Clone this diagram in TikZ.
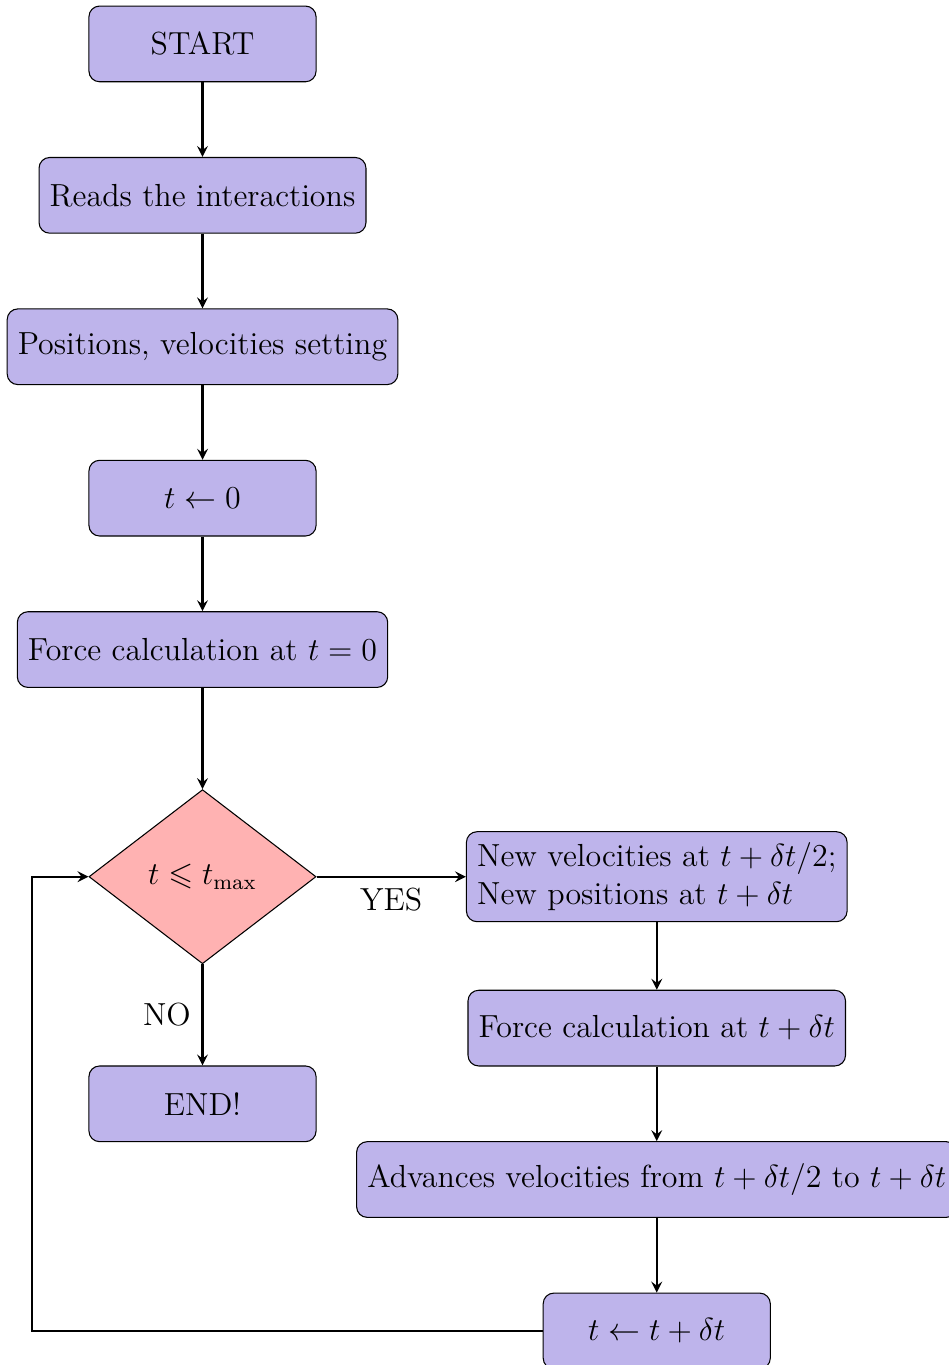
\documentclass[tikz,border=0pt,12pt]{standalone}
\usepackage{amssymb}
\usepackage{tikz}
\tikzset{>=stealth}
\usetikzlibrary{shapes.geometric}
\definecolor{boxfill}{RGB}{190,180,235}

\begin{document}
\begin{tikzpicture}
      \tikzstyle{process}=[rectangle,rounded corners,draw=black,fill=boxfill,minimum width=3cm,minimum height=1cm,text centered];
      \tikzstyle{decision}=[diamond,draw=black,fill=red!30,minimum width=3cm,minimum height=2.3cm,inner sep=0pt];
      \tikzstyle{arrow}=[thick,->];
      \useasboundingbox (-2.675,0.58) rectangle (9.86,-17.45);
      \node[process] (start) at (0,0) {START};
      \node[process] (reads) at (0,-2) {Reads the interactions};
      \node[process] (init) at (0,-4) {Positions, velocities setting};
      \node[process] (tzero) at (0,-6) {$t \leftarrow 0$};
      \node[process] (forcezero) at (0,-8) {Force calculation at $t=0$};
      \node[decision] (test) at (0,-11) {$t \leqslant t_{\max}$};
      \node[process] (stop) at (0,-14) {END!};
      \node[process,align=left] (newpos) at (6,-11) {New velocities at $t+\delta t/2$;\\New positions at $t+\delta t$};
      \node[process] (forcedt) at (6,-13) {Force calculation at $t+\delta t$};
      \node[process] (advance) at (6,-15) {Advances velocities from $t+\delta t/2$ to $t+\delta t$};
      \node[process] (tstep) at (6,-17) {$t \leftarrow t+\delta t$};
      \coordinate (loop) at (-2.25,-11);

      \draw[arrow](start)--(reads);
      \draw[arrow](reads)--(init);
      \draw[arrow](init)--(tzero);
      \draw[arrow](tzero)--(forcezero);
      \draw[arrow](forcezero)--(test);
      \draw[arrow](test)--(newpos) node[midway,below]{YES};
      \draw[arrow](test)--(stop) node[midway,left]{NO};
      \draw[arrow](newpos)--(forcedt);
      \draw[arrow](forcedt)--(advance);
      \draw[arrow](advance)--(tstep);
      \draw[arrow](tstep.west)-|(loop)--(test.west);
    \end{tikzpicture}
\end{document}
